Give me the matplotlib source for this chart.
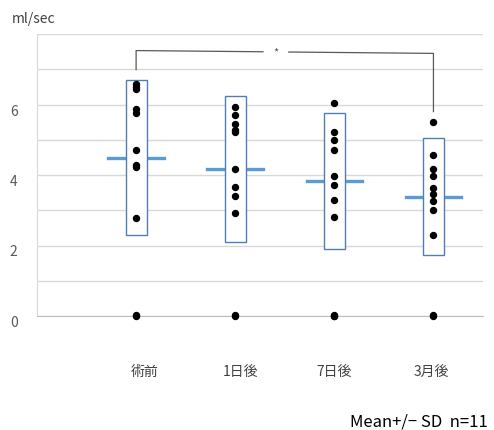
import matplotlib
matplotlib.use('Agg')
import matplotlib.pyplot as plt

plt.rcParams['font.family'] = ['Noto Sans CJK JP', 'DejaVu Sans']

# データ
groups = ['術前', '1日後', '7日後', '3月後']
vals = [
    [6.57, 6.50, 6.43, 5.88, 5.75, 4.70, 4.28, 4.22, 2.78, 0.03, 0.0],
    [5.92, 5.69, 5.45, 5.29, 5.21, 4.17, 3.66, 3.41, 2.91, 0.03, 0.0],
    [6.03, 5.21, 4.98, 4.70, 3.96, 3.72, 3.30, 2.81, 0.02, 0.0, 0.0],
    [5.50, 4.56, 4.18, 3.96, 3.64, 3.47, 3.25, 3.00, 2.29, 0.02, 0.0],
]
means = [4.49, 4.16, 3.84, 3.39]
sds = [2.20, 2.07, 1.93, 1.65]
bracket_y = [6.99, 7.53, 7.45, 5.80]   # 左脚下, 左上, 右上, 右脚下

fig = plt.figure(figsize=(4.94, 4.30), dpi=100)
ax = fig.add_axes([37/494, 1-316/430, 446/494, 282/430])

xs = [1, 2, 3, 4]
box_w = 0.21
half = 0.28

for x, v, m, s in zip(xs, vals, means, sds):
    # 平均線
    ax.plot([x-half, x+half], [m, m], color='#5b9bd5', lw=2.4, zorder=2)
    # Mean +/- SD の箱
    ax.add_patch(plt.Rectangle((x-box_w/2, m-s), box_w, 2*s, facecolor='white',
                               edgecolor='#4f7db5', lw=1.0, zorder=3))
    ax.plot([x]*len(v), v, 'o', color='black', ms=4.3, zorder=4, clip_on=False)

# 有意差のブラケット
x1, x2 = xs[0], xs[3]
gap_l, gap_r = 2.28, 2.54
slope = (bracket_y[2]-bracket_y[1])/(x2-x1)
ax.plot([x1, x1, gap_l], [bracket_y[0], bracket_y[1], bracket_y[1] + slope*(gap_l-x1)],
        color='#595959', lw=0.9, zorder=5)
ax.plot([gap_r, x2, x2], [bracket_y[1] + slope*(gap_r-x1), bracket_y[2], bracket_y[3]],
        color='#595959', lw=0.9, zorder=5)
ax.text((gap_l+gap_r)/2, 7.47, '*', ha='center', va='center', fontsize=8, color='#595959')

ax.set_xlim(0, 4.5)
ax.set_ylim(0, 8)
ax.set_yticks(range(0, 9))
ax.set_yticklabels(['0', '', '2', '', '4', '', '6', '', ''])
ax.tick_params(axis='y', length=0, labelsize=10, labelcolor='#595959', pad=14)
for lab in ax.get_yticklabels():
    lab.set_verticalalignment('top')
    lab.set_y(-0.0)
ax.set_xticks([])
ax.grid(axis='y', color='#d9d9d9', lw=1)
ax.set_axisbelow(True)
for sp in ['top', 'right']:
    ax.spines[sp].set_visible(False)
ax.spines['left'].set_color('#d9d9d9')
ax.spines['bottom'].set_color('#bfbfbf')

label_x = [1.09, 2.05, 3.0, 3.98]
for lx, g in zip(label_x, groups):
    ax.text(lx, -0.199, g, transform=ax.get_xaxis_transform(), ha='center', va='center',
            fontsize=10, color='#404040')

fig.text(12/494, 1-19/430, 'ml/sec', ha='left', va='center', fontsize=10, color='#404040')
fig.text(488/494, 1-422/430, 'Mean+/\u2212 SD  n=11', ha='right', va='center', fontsize=12, color='black')

fig.savefig('out.png', dpi=100)
